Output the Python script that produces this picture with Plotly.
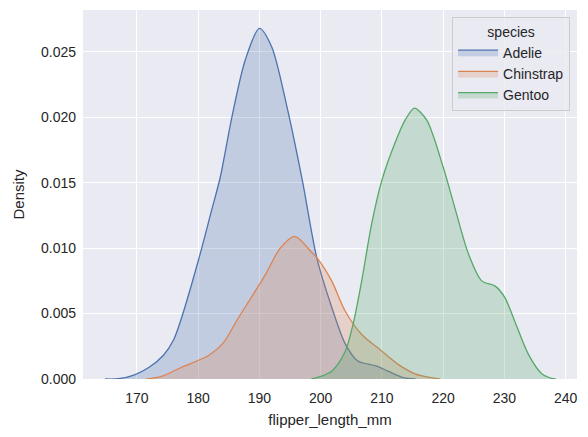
import plotly.graph_objects as go

# kde curves (flipper_length_mm vs density)
adelie_x = [164.8, 167, 169.5, 172, 174.3, 176, 177.1, 180, 182.2, 183.6, 185.5, 187.7, 190, 192,
            194.5, 197, 199.4, 201.8, 204, 206, 209, 211, 213.5, 215.5]
adelie_d = [0, 0.00002, 0.0003, 0.0009, 0.0018, 0.003, 0.0044, 0.009, 0.0129, 0.0154, 0.02, 0.0244,
            0.0268, 0.0254, 0.0208, 0.0152, 0.0092, 0.0055, 0.0027, 0.0014, 0.001, 0.0006, 0.0001, 0]

chinstrap_x = [171.5, 174, 177.3, 181.7, 184, 186.6, 189.3, 191, 193.4, 195.8, 198.3, 199.5, 201.8,
               204, 206.7, 209.8, 212.7, 215.4, 218, 219.5]
chinstrap_d = [0, 0.0002, 0.0009, 0.0018, 0.0027, 0.0047, 0.0067, 0.008, 0.01, 0.0109, 0.0098, 0.0092,
               0.0075, 0.0052, 0.0034, 0.0022, 0.0011, 0.0004, 0.0001, 0]

gentoo_x = [198.5, 201.8, 204, 205.3, 206.7, 208.3, 210, 212.1, 213.8, 215.3, 217.3, 220, 221.9, 224.1,
            226.3, 228.5, 230.1, 231.7, 233.9, 236.1, 237.7, 238.4]
gentoo_d = [0, 0.0006, 0.0021, 0.0042, 0.0075, 0.0118, 0.0152, 0.018, 0.0198, 0.0207, 0.0198, 0.0162,
            0.0131, 0.0096, 0.0075, 0.0071, 0.0062, 0.0044, 0.0019, 0.0004, 0.00005, 0]

x_ticks = [170, 180, 190, 200, 210, 220, 230, 240]
y_ticks = [0.000, 0.005, 0.010, 0.015, 0.020, 0.025]

series = [
    ("Adelie", adelie_x, adelie_d, "#4c72b0", "rgba(76,114,176,0.25)"),
    ("Chinstrap", chinstrap_x, chinstrap_d, "#dd8452", "rgba(221,132,82,0.25)"),
    ("Gentoo", gentoo_x, gentoo_d, "#55a868", "rgba(85,168,104,0.25)"),
]

fig = go.Figure()
for name, xs, ds, col, fillcol in series:
    fig.add_trace(go.Scatter(
        x=xs, y=ds, name=name, mode="lines",
        line=dict(color=col, width=1.3, shape="spline", smoothing=0.8),
        fill="tozeroy", fillcolor=fillcol))

# page body has an 8px margin, so the figure is a bit smaller than the window
fig.update_layout(
    width=580, height=429,
    margin=dict(l=75, r=11, t=2, b=58),
    paper_bgcolor="white", plot_bgcolor="#eaeaf2",
    font=dict(family="Liberation Sans, Arial, sans-serif", size=14, color="#262626"),
    showlegend=True,
    legend=dict(
        title=dict(text="species", side="top center", font=dict(size=14)),
        x=0.986, y=0.98, xanchor="right", yanchor="top",
        bgcolor="rgba(234,234,242,0.8)", bordercolor="#cccccc", borderwidth=1,
        font=dict(size=14), itemwidth=40, tracegroupgap=0),
)
fig.update_xaxes(
    range=[161.2, 241.85], tickvals=x_ticks, showgrid=True, gridcolor="white", gridwidth=1.3,
    zeroline=False, showline=False, ticks="", ticklabelstandoff=9, automargin=False,
    title=dict(text="flipper_length_mm", font=dict(size=15), standoff=9))
fig.update_yaxes(
    range=[0, 0.0282], tickvals=y_ticks, tickformat=".3f", showgrid=True, gridcolor="white", gridwidth=1.3,
    zeroline=False, showline=False, ticks="", ticklabelstandoff=6, automargin=False,
    title=dict(text="Density", font=dict(size=15), standoff=12))

fig.write_html("out.html")
